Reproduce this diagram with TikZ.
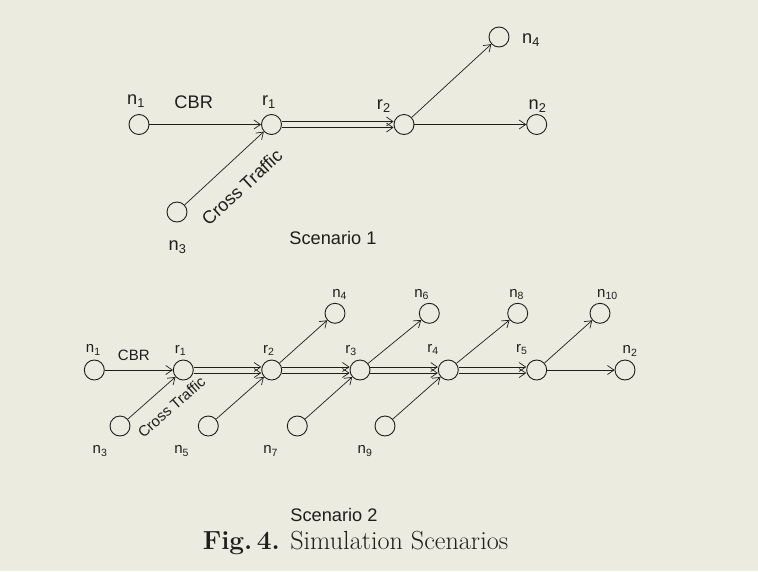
\documentclass[tikz,border=0pt]{standalone}
\usepackage{fontspec}
\newfontfamily\arialfont{Liberation Sans}
\usetikzlibrary{arrows.meta,positioning}
\definecolor{paper}{RGB}{235,235,223}
\definecolor{ink}{RGB}{30,30,30}
\tikzset{
  host/.style={circle, draw=ink, line width=0.9pt, minimum size=20pt, inner sep=0pt},
  link/.style={-{Straight Barb[length=6.5pt,width=9pt]}, line width=0.7pt, draw=ink},
  biglbl/.style={font=\arialfont\fontsize{18.2}{20}\selectfont, text=ink, inner sep=0pt},
  smalllbl/.style={font=\arialfont\fontsize{15}{17}\selectfont, text=ink, inner sep=0pt}
}

\begin{document}
\begin{tikzpicture}[x=1pt,y=-1pt]
  \fill[paper] (0,0) rectangle (758,571);
  \useasboundingbox (0,0) rectangle (758,571);

  % Scenario 1 nodes
  \node[host] (n1) at (139,124.5) {};
  \node[host] (r1) at (271.5,124.5) {};
  \node[host] (r2) at (404,124.5) {};
  \node[host] (n2) at (536.7,124.5) {};
  \node[host] (n4) at (499,37) {};
  \node[host] (n3) at (177,212) {};

  \node[biglbl] (ln1) at (136,101) {n\textsubscript{1}};
  \node[biglbl] (lcbr) at (193.7,102.5) {CBR};
  \node[biglbl] (lr1) at (269,102.5) {r\textsubscript{1}};
  \node[biglbl] (lr2) at (383.8,106) {r\textsubscript{2}};
  \node[biglbl] (ln2) at (537.5,106.5) {n\textsubscript{2}};
  \node[biglbl] (ln4) at (531,40.5) {n\textsubscript{4}};
  \node[biglbl] (ln3) at (177.5,247.5) {n\textsubscript{3}};
  \node[biglbl] (sc1) at (333,238.3) {Scenario 1};

  % Scenario 1 links
  \draw[link] (n1) -- (r1);
  \draw[link] ([yshift=3pt]r1.east) -- ([yshift=3pt]r2.west);
  \draw[link] ([yshift=-3pt]r1.east) -- ([yshift=-3pt]r2.west);
  \draw[link] (r2) -- (n2);
  \draw[link] (r2) -- (n4);
  \draw[link] (n3) -- node[sloped,below=19pt,biglbl]{Cross Traffic} (r1);

  % Scenario 2 nodes
  \node[host] (s2n1) at (94.3,370) {};
  \node[host] (s2r1) at (183.3,370) {};
  \node[host] (s2r2) at (271.7,370) {};
  \node[host] (s2r3) at (360,370) {};
  \node[host] (s2r4) at (448.3,370) {};
  \node[host] (s2r5) at (536.7,370) {};
  \node[host] (s2n2) at (625,370) {};
  \node[host] (s2n4) at (335,313.3) {};
  \node[host] (s2n6) at (429.3,313.3) {};
  \node[host] (s2n8) at (517.7,313.3) {};
  \node[host] (s2n10) at (600,313.3) {};
  \node[host] (s2n3) at (120,426) {};
  \node[host] (s2n5) at (208.3,426) {};
  \node[host] (s2n7) at (297.3,426) {};
  \node[host] (s2n9) at (385,426) {};

  \node[smalllbl] (l2n1) at (93.3,350) {n\textsubscript{1}};
  \node[smalllbl] (l2cbr) at (133.8,355) {CBR};
  \node[smalllbl] (l2r1) at (180.5,350.5) {r\textsubscript{1}};
  \node[smalllbl] (l2r2) at (268.7,350.5) {r\textsubscript{2}};
  \node[smalllbl] (l2r3) at (351,350.5) {r\textsubscript{3}};
  \node[smalllbl] (l2r4) at (433,349.7) {r\textsubscript{4}};
  \node[smalllbl] (l2r5) at (521.7,349.7) {r\textsubscript{5}};
  \node[smalllbl] (l2n2) at (630,350.8) {n\textsubscript{2}};
  \node[smalllbl] (l2n4) at (339.7,294.5) {n\textsubscript{4}};
  \node[smalllbl] (l2n6) at (421.7,294.5) {n\textsubscript{6}};
  \node[smalllbl] (l2n8) at (516.7,294.5) {n\textsubscript{8}};
  \node[smalllbl] (l2n10) at (607.5,294.5) {n\textsubscript{10}};
  \node[smalllbl] (l2n3) at (100,451) {n\textsubscript{3}};
  \node[smalllbl] (l2n5) at (181.7,451) {n\textsubscript{5}};
  \node[smalllbl] (l2n7) at (270.7,451) {n\textsubscript{7}};
  \node[smalllbl] (l2n9) at (365,451) {n\textsubscript{9}};
  \node[biglbl] (sc2) at (334,515) {Scenario 2};

  % Scenario 2 links
  \draw[link] (s2n1) -- (s2r1);
  \foreach \a/\b in {s2r1/s2r2, s2r2/s2r3, s2r3/s2r4, s2r4/s2r5} {
    \draw[link] ([yshift=3pt]\a.east) -- ([yshift=3pt]\b.west);
    \draw[link] ([yshift=-3pt]\a.east) -- ([yshift=-3pt]\b.west);
  }
  \draw[link] (s2r5) -- (s2n2);
  \foreach \a/\b in {s2r2/s2n4, s2r3/s2n6, s2r4/s2n8, s2r5/s2n10, s2n5/s2r2, s2n7/s2r3, s2n9/s2r4}
    \draw[link] (\a) -- (\b);
  \draw[link] (s2n3) -- node[sloped,pos=0.64,below=14pt,smalllbl]{Cross Traffic} (s2r1);

  % caption
  \node[text=ink, font=\fontsize{26.2}{30}\selectfont] (cap) at (355.5,543) {\textbf{Fig.\,4.} Simulation Scenarios};
\end{tikzpicture}
\end{document}
